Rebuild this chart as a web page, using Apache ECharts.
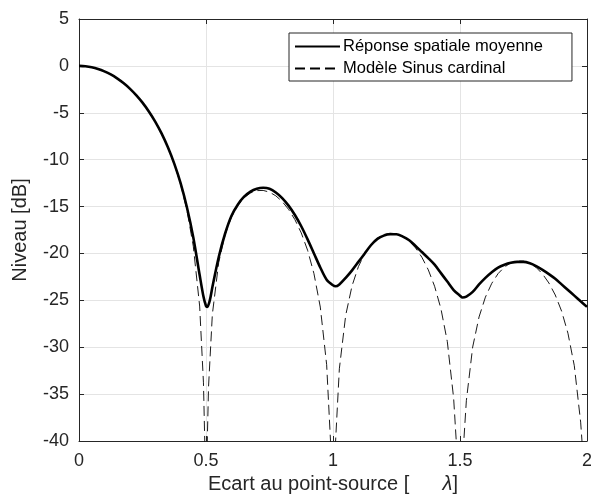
<!DOCTYPE html>
<html><head><meta charset="utf-8">
<script src="https://cdn.jsdelivr.net/npm/echarts@6/dist/echarts.min.js"></script>
<style>html,body{margin:0;padding:0;background:#fff}#c{width:591px;height:499px}</style>
</head><body><div id="c"></div>
<script>
// Réponse spatiale moyenne (solid)
const xSolid = [0,0.025,0.05,0.075,0.1,0.125,0.15,0.175,0.2,0.225,0.25,0.275,0.3,0.325,0.35,0.375,0.4,0.425,0.45,0.475,0.49,0.5,0.505,0.515,0.525,0.55,0.575,0.6,0.625,0.65,0.675,0.7,0.725,0.75,0.775,0.8,0.825,0.85,0.875,0.9,0.925,0.95,0.975,1.0,1.01,1.025,1.05,1.075,1.1,1.125,1.15,1.175,1.2,1.225,1.25,1.275,1.3,1.325,1.35,1.375,1.4,1.425,1.45,1.475,1.5,1.51,1.525,1.55,1.575,1.6,1.625,1.65,1.675,1.7,1.725,1.75,1.775,1.8,1.825,1.85,1.875,1.9,1.925,1.95,1.975,2.0];
const ySolid = [0,-0.04,-0.14,-0.32,-0.58,-0.91,-1.33,-1.83,-2.42,-3.12,-3.92,-4.86,-5.94,-7.2,-8.68,-10.42,-12.5,-15.1,-18.3,-22.3,-24.6,-25.6,-25.7,-25.0,-23.6,-20.4,-17.9,-16.0,-14.8,-13.95,-13.4,-13.1,-13.0,-13.1,-13.5,-14.1,-14.9,-15.9,-17.1,-18.5,-20.0,-21.5,-22.8,-23.4,-23.5,-23.3,-22.6,-21.8,-20.9,-20.0,-19.1,-18.45,-18.1,-17.95,-17.95,-18.2,-18.6,-19.2,-19.85,-20.5,-21.2,-22.1,-23.0,-23.9,-24.5,-24.7,-24.6,-24.1,-23.3,-22.6,-22.0,-21.5,-21.2,-21.0,-20.9,-20.9,-21.05,-21.35,-21.75,-22.2,-22.7,-23.3,-23.9,-24.5,-25.1,-25.7];
// Modèle Sinus cardinal (dashed)
const xModel = [0,0.025,0.05,0.075,0.1,0.125,0.15,0.175,0.2,0.225,0.25,0.275,0.3,0.325,0.35,0.375,0.4,0.425,0.45,0.475,0.49,0.495,0.5,0.505,0.51,0.525,0.55,0.575,0.6,0.625,0.65,0.675,0.7,0.725,0.75,0.775,0.8,0.825,0.85,0.875,0.9,0.925,0.95,0.975,0.99,1.0,1.01,1.025,1.05,1.075,1.1,1.125,1.15,1.175,1.2,1.225,1.25,1.275,1.3,1.325,1.35,1.375,1.4,1.425,1.45,1.475,1.485,1.5,1.515,1.525,1.55,1.575,1.6,1.625,1.65,1.675,1.7,1.725,1.75,1.775,1.8,1.825,1.85,1.875,1.9,1.925,1.95,1.975,1.98,2.0];
const yModel = [0,-0.04,-0.14,-0.32,-0.58,-0.91,-1.33,-1.83,-2.42,-3.12,-3.92,-4.86,-5.94,-7.2,-8.69,-10.45,-12.62,-15.39,-19.23,-25.61,-33.8,-39.9,-80,-40.1,-34.2,-26.5,-20.97,-18.02,-16.14,-14.89,-14.06,-13.55,-13.3,-13.28,-13.46,-13.86,-14.46,-15.3,-16.39,-17.81,-19.66,-22.15,-25.72,-31.86,-39.9,-80,-40.1,-32.3,-26.59,-23.45,-21.41,-20.0,-19.02,-18.37,-17.98,-17.84,-17.9,-18.18,-18.68,-19.41,-20.41,-21.74,-23.5,-25.9,-29.39,-35.45,-39.9,-80,-40.0,-35.7,-29.97,-26.77,-24.66,-23.19,-22.15,-21.45,-21.01,-20.81,-20.82,-21.05,-21.5,-22.19,-23.15,-24.43,-26.15,-28.51,-31.97,-37.99,-39.9,-80];
const xTicks = [0,0.5,1,1.5,2];
const yTicks = [5,0,-5,-10,-15,-20,-25,-30,-35,-40];
const seriesNames = ['Réponse spatiale moyenne','Modèle Sinus cardinal'];

const zip = (xs, ys) => xs.map((x, i) => [x, ys[i]]);
const font = 'Liberation Sans, Arial, Helvetica, sans-serif';
const axisCol = '#262626';
const chart = echarts.init(document.getElementById('c'), null, {renderer: 'canvas'});
const baseX = {
  type: 'value', min: xTicks[0], max: xTicks[xTicks.length - 1], interval: 0.5,
  axisLine: {show: true, onZero: false, lineStyle: {color: axisCol, width: 1}},
  axisTick: {show: true, inside: true, length: 5, lineStyle: {color: axisCol}},
  splitLine: {show: false}
};
const baseY = {
  type: 'value', min: yTicks[yTicks.length - 1], max: yTicks[0], interval: 5,
  axisLine: {show: true, onZero: false, lineStyle: {color: axisCol, width: 1}},
  axisTick: {show: true, inside: true, length: 5, lineStyle: {color: axisCol}},
  splitLine: {show: false}
};
chart.setOption({
  animation: false,
  backgroundColor: '#fff',
  textStyle: {fontFamily: font},
  grid: {left: 79, right: 4, top: 19, bottom: 58, containLabel: false, outerBoundsMode: 'none'},
  legend: {
    orient: 'vertical', left: 289, top: 33,
    data: seriesNames,
    itemWidth: 45, itemHeight: 17, itemGap: 5,
    padding: [5, 29, 4, 5],
    itemStyle: {opacity: 0},
    borderColor: axisCol, borderWidth: 1, backgroundColor: '#fff', borderRadius: 0,
    textStyle: {fontFamily: font, fontSize: 16.5, color: '#000', padding: [0, 0, 0, -2]}
  },
  xAxis: [
    Object.assign({}, baseX, {
      position: 'bottom',
      splitLine: {show: true, lineStyle: {color: '#e4e4e4', width: 1}},
      axisLabel: {show: true, color: axisCol, fontSize: 18, fontFamily: font, margin: 11,
        formatter: v => String(v)},
      name: 'Ecart au point-source [      {i|λ}]',
      nameLocation: 'middle', nameGap: 33,
      nameTextStyle: {color: axisCol, fontSize: 20, fontFamily: font,
        rich: {i: {fontStyle: 'italic', fontSize: 20, fontFamily: font, color: axisCol}}}
    }),
    Object.assign({}, baseX, {position: 'top', axisLabel: {show: false}})
  ],
  yAxis: [
    Object.assign({}, baseY, {
      position: 'left',
      splitLine: {show: true, lineStyle: {color: '#e4e4e4', width: 1}},
      axisLabel: {show: true, color: axisCol, fontSize: 18, fontFamily: font, margin: 10},
      name: 'Niveau [dB]', nameLocation: 'middle', nameGap: 49, nameRotate: 90,
      nameTextStyle: {color: axisCol, fontSize: 20, fontFamily: font}
    }),
    Object.assign({}, baseY, {position: 'right', axisLabel: {show: false}})
  ],
  series: [
    {
      name: seriesNames[0], type: 'line', xAxisIndex: 0, yAxisIndex: 0,
      data: zip(xSolid, ySolid), showSymbol: false, symbol: 'none', smooth: 0.3,
      clip: true, z: 3,
      lineStyle: {color: '#000', width: 2.6}, itemStyle: {color: '#000'}
    },
    {
      name: seriesNames[1], type: 'line', xAxisIndex: 0, yAxisIndex: 0,
      data: zip(xModel, yModel), showSymbol: false, symbol: 'none', smooth: false,
      clip: true, z: 2,
      lineStyle: {color: '#000', width: 0.9, type: [10, 5]}, itemStyle: {color: '#000'}
    }
  ]
});
</script></body></html>
